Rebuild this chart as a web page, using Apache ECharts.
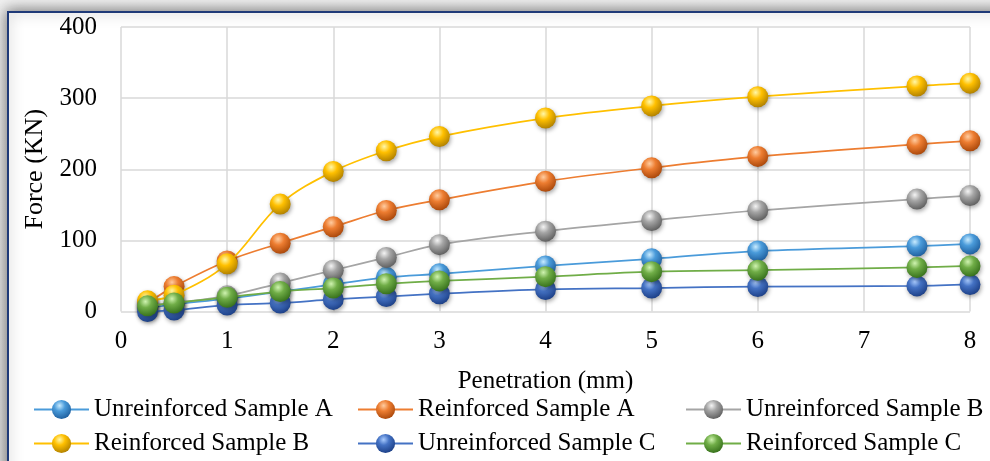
<!DOCTYPE html>
<html>
<head>
<meta charset="utf-8">
<script src="https://cdn.jsdelivr.net/npm/echarts@6/dist/echarts.min.js"></script>
<style>
	html, body { margin: 0; padding: 0; background: #fff; }
	#chart { width: 990px; height: 461px; }
</style>
</head>
<body>
<div id="chart"></div>
<script>
// penetration (mm)
var penetration = [0.25, 0.5, 1, 1.5, 2, 2.5, 3, 4, 5, 6, 7.5, 8];

// force (KN)
var unreinforcedA = [5, 10, 18, 28, 38, 48, 53, 64, 74, 85, 92, 95];
var reinforcedA = [12, 35, 71, 96, 119, 142, 157, 183, 202, 218, 235, 240];
var unreinforcedB = [8, 12, 22, 40, 58, 76, 94, 113, 128, 142, 158, 163];
var reinforcedB = [15, 23, 67, 151, 197, 226, 246, 272, 289, 302, 317, 321];
var unreinforcedC = [0, 2, 9, 12, 17, 21, 25, 31, 33, 35, 36, 38];
var reinforcedC = [8, 12, 20, 28, 33, 39, 43, 49, 56, 58, 62, 64];

var seriesNames = ['Unreinforced Sample A', 'Reinforced Sample A', 'Unreinforced Sample B',
	'Reinforced Sample B', 'Unreinforced Sample C', 'Reinforced Sample C'];
var seriesData = [unreinforcedA, reinforcedA, unreinforcedB, reinforcedB, unreinforcedC, reinforcedC];

var xTicks = [0, 1, 2, 3, 4, 5, 6, 7, 8];
var yTicks = [0, 100, 200, 300, 400];

// [line, highlight, dark edge]
var palette = [
	['#4A9BDA', '#C8EBFF', '#1F5F9E'],
	['#ED7D31', '#FFCCA0', '#A9470A'],
	['#A5A5A5', '#F4F4F4', '#5E5E5E'],
	['#FFC000', '#FFF7A8', '#B08000'],
	['#4472C4', '#A9CBFF', '#1C3F86'],
	['#70AD47', '#CFF3B0', '#36701B']
];

// legend slots: [left, top]
var legendPos = [[33, 397], [357, 397], [685, 397], [33, 431], [357, 431], [685, 431]];

var fontName = '"Liberation Serif", "DejaVu Serif", serif';

function ball(c) {
	return new echarts.graphic.RadialGradient(0.4, 0.3, 0.72, [
		{ offset: 0, color: c[1] },
		{ offset: 0.4, color: c[0] },
		{ offset: 1, color: c[2] }
	]);
}

var chart = echarts.init(document.getElementById('chart'));

var series = [];
var legends = [];
for (var i = 0; i < seriesNames.length; i++) {
	var pts = [];
	for (var k = 0; k < penetration.length; k++) {
		pts.push([penetration[k], seriesData[i][k]]);
	}
	series.push({
		name: seriesNames[i],
		type: 'line',
		data: pts,
		smooth: 0.35,
		symbol: 'circle',
		symbolSize: 21,
		lineStyle: { color: palette[i][0], width: 1.75 },
		itemStyle: {
			color: ball(palette[i]),
			borderWidth: 0,
			shadowBlur: 4,
			shadowOffsetX: 1,
			shadowOffsetY: 2,
			shadowColor: 'rgba(0,0,0,0.35)'
		},
		emphasis: { disabled: true },
		z: 2 + i
	});
	legends.push({
		data: [seriesNames[i]],
		left: legendPos[i][0],
		top: legendPos[i][1],
		padding: 0,
		itemWidth: 55,
		itemHeight: 24,
		textStyle: { fontFamily: fontName, fontSize: 25, color: '#000' },
		selectedMode: false
	});
}

var option = {
	backgroundColor: '#ffffff',
	animation: false,
	graphic: [
		{
			type: 'rect', z: -20, silent: true,
			shape: { x: 0, y: 0, width: 990, height: 461 },
			style: { fill: new echarts.graphic.LinearGradient(0, 0, 0, 1, [
				{ offset: 0, color: '#f2f2f2' }, { offset: 1, color: '#e4e4e4' }]) }
		},
		{
			type: 'rect', z: -19, silent: true,
			shape: { x: 8, y: 12, width: 1000, height: 470 },
			style: {
				fill: '#ffffff',
				stroke: '#1F3A78',
				lineWidth: 2,
				shadowBlur: 14,
				shadowColor: 'rgba(0,0,0,0.5)',
				shadowOffsetX: -1,
				shadowOffsetY: -1
			}
		}
	],
	legend: legends,
	grid: { left: 121, right: 20, top: 27, bottom: 149.5, containLabel: false },
	xAxis: {
		type: 'value',
		min: xTicks[0],
		max: xTicks[xTicks.length - 1],
		interval: 1,
		name: 'Penetration (mm)',
		nameLocation: 'middle',
		nameGap: 57,
		nameTextStyle: { fontFamily: fontName, fontSize: 25, color: '#000' },
		axisLine: { show: false },
		axisTick: { show: false },
		axisLabel: { fontFamily: fontName, fontSize: 25, color: '#000', margin: 17 },
		splitLine: { show: true, lineStyle: { color: '#d9d9d9', width: 1.5 } }
	},
	yAxis: {
		type: 'value',
		min: yTicks[0],
		max: yTicks[yTicks.length - 1],
		interval: 100,
		name: 'Force (KN)',
		nameLocation: 'middle',
		nameGap: 70,
		nameTextStyle: { fontFamily: fontName, fontSize: 26, color: '#000' },
		axisLine: { show: false },
		axisTick: { show: false },
		axisLabel: { fontFamily: fontName, fontSize: 25, color: '#000', margin: 24 },
		splitLine: { show: true, lineStyle: { color: '#d9d9d9', width: 1.5 } }
	},
	series: series
};

chart.setOption(option);
</script>
</body>
</html>
